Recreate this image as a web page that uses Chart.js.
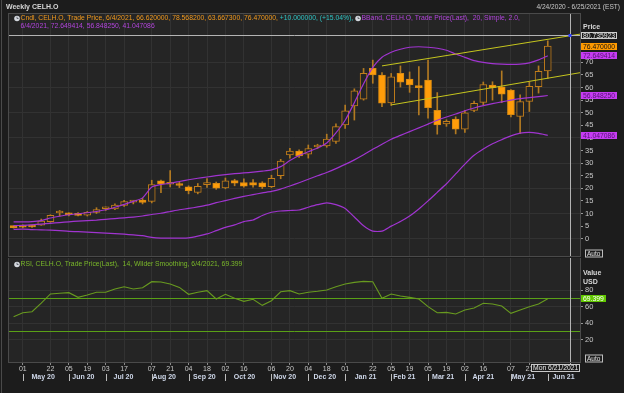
<!DOCTYPE html>
<html>
<head>
<meta charset="utf-8">
<title>Weekly CELH.O</title>
<script src="https://cdn.jsdelivr.net/npm/chart.js@4.4.1/dist/chart.umd.min.js"></script>
<style>
    html, body { margin: 0; padding: 0; background: #1c1c1c; }
    #wrap { position: relative; width: 624px; height: 393px; overflow: hidden; background: #1c1c1c; }
    #wrap canvas { position: absolute; left: 0; }
    #price { top: 0; }
    #rsi { top: 258px; }
</style>
</head>
<body>
<div id="wrap">
    <canvas id="price" width="624" height="258"></canvas>
    <canvas id="rsi" width="624" height="135"></canvas>
</div>
<script>
'use strict';

// Weekly candles (week ending Friday)
const weeks = [
    '2020-04-24', '2020-05-01', '2020-05-08', '2020-05-15', '2020-05-22', '2020-05-29',
    '2020-06-05', '2020-06-12', '2020-06-19', '2020-06-26', '2020-07-03', '2020-07-10',
    '2020-07-17', '2020-07-24', '2020-07-31', '2020-08-07', '2020-08-14', '2020-08-21',
    '2020-08-28', '2020-09-04', '2020-09-11', '2020-09-18', '2020-09-25', '2020-10-02',
    '2020-10-09', '2020-10-16', '2020-10-23', '2020-10-30', '2020-11-06', '2020-11-13',
    '2020-11-20', '2020-11-27', '2020-12-04', '2020-12-11', '2020-12-18', '2020-12-25',
    '2021-01-01', '2021-01-08', '2021-01-15', '2021-01-22', '2021-01-29', '2021-02-05',
    '2021-02-12', '2021-02-19', '2021-02-26', '2021-03-05', '2021-03-12', '2021-03-19',
    '2021-03-26', '2021-04-02', '2021-04-09', '2021-04-16', '2021-04-23', '2021-04-30',
    '2021-05-07', '2021-05-14', '2021-05-21', '2021-05-28', '2021-06-04'
];
const opens = [5.0, 5.2, 5.3, 5.4, 6.8, 10.2, 10.0, 10.1, 9.3, 10.4,
    11.9, 11.8, 13.2, 14.5, 15.3, 14.8, 23.0, 21.6, 21.8, 20.6,
    18.4, 21.4, 22.0, 20.2, 23.1, 22.3, 22.3, 22.2, 20.7, 25.0,
    33.3, 34.8, 33.6, 36.4, 36.8, 38.6, 45.2, 52.7, 55.4, 67.6,
    65.0, 53.9, 65.6, 63.4, 60.5, 63.0, 51.0, 45.6, 47.5, 43.5,
    50.9, 54.1, 61.0, 60.3, 59.0, 48.5, 54.5, 60.4, 66.62];
const highs = [5.1, 5.5, 5.4, 7.8, 9.5, 11.2, 10.3, 10.4, 10.8, 12.3,
    12.6, 13.8, 15.2, 15.2, 16.0, 23.2, 23.3, 27.0, 22.5, 21.0,
    21.9, 23.9, 22.5, 24.1, 23.6, 23.8, 23.5, 22.6, 25.2, 31.5,
    35.9, 35.3, 37.2, 37.5, 41.5, 45.6, 53.0, 59.5, 67.6, 70.9,
    65.9, 65.6, 68.6, 66.2, 68.3, 70.9, 58.0, 47.2, 48.4, 51.0,
    54.6, 62.2, 62.3, 66.6, 59.2, 57.1, 62.2, 68.6, 78.5682];
const lows = [4.2, 4.3, 4.5, 5.3, 6.5, 9.0, 9.0, 9.0, 9.0, 10.0,
    11.2, 11.5, 12.8, 13.8, 13.8, 14.2, 18.3, 20.6, 20.3, 17.8,
    17.8, 20.4, 19.6, 19.8, 21.0, 20.5, 20.5, 19.9, 20.3, 23.8,
    32.0, 32.3, 32.0, 35.8, 36.3, 37.8, 43.8, 47.1, 55.0, 61.7,
    52.4, 52.9, 60.2, 58.1, 49.1, 47.8, 41.5, 44.6, 41.6, 42.2,
    50.4, 53.2, 55.0, 54.0, 48.3, 41.7, 50.5, 57.8, 63.6673];
const closes = [4.4, 4.6, 4.7, 7.0, 9.3, 10.4, 9.5, 9.2, 10.5, 11.6,
    12.1, 13.3, 14.7, 14.7, 14.4, 21.5, 21.7, 22.0, 21.1, 19.1,
    20.8, 22.3, 20.1, 23.0, 22.0, 20.9, 21.2, 20.6, 24.0, 30.8,
    34.8, 32.9, 35.8, 36.7, 39.5, 44.5, 50.8, 58.7, 65.6, 65.0,
    53.8, 64.3, 62.1, 61.0, 60.0, 52.0, 45.2, 46.6, 43.5, 50.0,
    53.7, 61.2, 60.0, 57.4, 49.2, 54.4, 60.5, 66.47, 76.47];

// Bollinger band (20, 2.0)
const bbUpper = [6.7, 6.7, 6.8, 7.2, 8.2, 8.9, 9.5, 9.9, 10.3, 10.8,
    11.5, 12.5, 13.6, 14.8, 16.2, 20.5, 21.5, 22.0, 22.7, 23.4,
    24.0, 24.5, 25.0, 25.4, 25.8, 26.1, 26.4, 26.8, 27.3, 28.6,
    31.0, 33.0, 34.5, 36.0, 38.0, 42.0, 47.0, 54.0, 61.5, 68.0,
    72.0, 74.0, 75.2, 76.0, 76.2, 76.0, 75.6, 74.8, 73.3, 72.0,
    70.7, 70.0, 69.5, 69.3, 69.2, 69.3, 69.8, 71.0, 72.649414];
const bbMid = [5.2, 5.3, 5.5, 5.8, 6.1, 6.4, 6.7, 7.0, 7.2, 7.4,
    7.7, 8.0, 8.3, 8.6, 9.0, 9.6, 10.1, 10.8, 11.5, 12.0,
    12.6, 13.3, 14.3, 15.1, 16.0, 16.8, 17.5, 18.2, 18.8, 19.7,
    20.9, 22.2, 23.6, 25.0, 26.3, 27.8, 29.5, 31.3, 33.3, 35.5,
    37.5, 39.5, 41.0, 42.5, 44.0, 45.5, 47.0, 48.3, 49.5, 50.8,
    51.9, 52.8, 53.6, 54.3, 55.0, 55.6, 56.0, 56.4, 56.84825];
const bbLower = [3.7, 3.8, 3.6, 3.5, 3.4, 3.2, 2.9, 2.8, 2.6, 2.4,
    2.2, 2.0, 1.8, 1.5, 1.2, 0.5, 0.2, 0.2, 0.2, 0.3,
    1.0, 1.9, 3.2, 4.5, 5.5, 6.8, 7.4, 9.2, 10.5, 11.0,
    11.2, 11.4, 12.5, 13.5, 14.2, 13.5, 12.0, 8.6, 5.1, 3.0,
    3.0, 5.0, 6.8, 9.0, 11.8, 15.0, 18.4, 21.8, 25.7, 29.6,
    33.1, 35.6, 37.7, 39.3, 40.8, 41.9, 42.2, 41.8, 41.047086];

// RSI 14, Wilder smoothing
const rsi = [47.7, 52.5, 53.7, 64.0, 75.2, 76.0, 76.8, 71.1, 74.0, 77.2,
    77.2, 81.2, 84.0, 81.2, 82.8, 90.1, 89.7, 87.3, 83.2, 74.8,
    77.2, 79.2, 69.1, 74.8, 69.9, 66.3, 68.7, 61.4, 67.0, 77.9,
    79.2, 75.2, 77.2, 78.4, 80.0, 84.0, 87.3, 89.3, 90.5, 90.1,
    69.9, 75.2, 72.7, 71.1, 69.1, 59.8, 52.5, 52.9, 50.9, 55.8,
    58.2, 63.9, 63.0, 60.6, 51.7, 55.8, 59.8, 63.0, 69.399];
const rsiLevels = [70, 30];

// trend channel drawn on the price panel (week index, price)
const trendUpperX = [40, 61.5];
const trendUpperY = [68.6, 81.2];
const trendLowerX = [41, 61.5];
const trendLowerY = [53.1, 65.9];

// axes
const priceTicks = [0, 5, 10, 15, 20, 25, 30, 35, 40, 45, 50, 55, 60, 65, 70];
const rsiTicks = [20, 40, 60, 80];
const dayTicks = [
    '2020-05-01', '2020-05-22', '2020-06-05', '2020-06-19', '2020-07-03', '2020-07-17',
    '2020-08-07', '2020-08-21', '2020-09-04', '2020-09-18', '2020-10-02', '2020-10-16',
    '2020-11-06', '2020-11-20', '2020-12-04', '2020-12-18', '2021-01-01', '2021-01-22',
    '2021-02-05', '2021-02-19', '2021-03-05', '2021-03-19', '2021-04-02', '2021-04-16',
    '2021-05-07', '2021-05-21'
];
const monthLabels = ['May 20', 'Jun 20', 'Jul 20', 'Aug 20', 'Sep 20', 'Oct 20', 'Nov 20',
    'Dec 20', 'Jan 21', 'Feb 21', 'Mar 21', 'Apr 21', 'May 21', 'Jun 21'];
const rangeEnd = '2021-06-25';
const crossDate = '2021-06-21';
const crossPrice = 80.735923;

// ---- look ----
const FONT = "'Liberation Sans', Arial, sans-serif";
const C = {
    bg: '#1c1c1c', plot: '#252525', grid: '#323232', frame: '#4a4a4a', text: '#c8c8c8',
    orange: '#ff9d0a', orangeEdge: '#d88a12', hollowEdge: '#c27d1a', wick: '#b27a22',
    band: '#a034d0', trend: '#c6c61e', rsiLine: '#689a1f', rsiLevel: '#5aa016',
    cross: '#b4b4b4', legOrange: '#f29a1e', legTeal: '#2fc4c4', legPurple: '#b244dc',
    legGreen: '#7ab82a', magenta: '#c63cf2', magentaText: '#571375'
};
const MONTHS = ['Jan', 'Feb', 'Mar', 'Apr', 'May', 'Jun', 'Jul', 'Aug', 'Sep', 'Oct', 'Nov', 'Dec'];
const DAYS = ['Sun', 'Mon', 'Tue', 'Wed', 'Thu', 'Fri', 'Sat'];
const WEEK_MS = 7 * 86400000;
const L = weeks.length - 1;

function parseDate(s) {
    const [y, m, d] = s.split('-').map(Number);
    return Date.UTC(y, m - 1, d);
}
const t0 = parseDate(weeks[0]);
const dateToIdx = s => (parseDate(s) - t0) / WEEK_MS;
const fmt = s => { const [y, m, d] = s.split('-'); return `${+m}/${+d}/${y}`; };

const xMin = -0.5;
const xMax = dateToIdx(rangeEnd) + 0.5;

function monthCenter(label) {
    const [mon, yy] = label.split(' ');
    const y = 2000 + Number(yy);
    const m = MONTHS.indexOf(mon);
    return ((Date.UTC(y, m, 1) + Date.UTC(y, m + 1, 1)) / 2 - t0) / WEEK_MS;
}
// first candle of each month gets a separator
const monthStarts = weeks.map((w, i) => i).filter(i => i > 0 && weeks[i].slice(5, 7) !== weeks[i - 1].slice(5, 7));

function icon(ctx, x, y) {
    ctx.beginPath();
    ctx.arc(x, y, 2.8, 0, Math.PI * 2);
    ctx.fillStyle = '#d4d8de';
    ctx.fill();
    ctx.strokeStyle = '#4a4f58';
    ctx.lineWidth = 0.8;
    ctx.beginPath();
    ctx.moveTo(x, y - 1.8);
    ctx.lineTo(x, y);
    ctx.lineTo(x + 1.5, y);
    ctx.stroke();
}

function drawParts(ctx, x, y, parts) {
    parts.forEach(p => {
        if (p === 'icon') {
            icon(ctx, x + 3, y);
            x += 6.5;
            return;
        }
        ctx.fillStyle = p[1];
        ctx.fillText(p[0], x, y);
        x += ctx.measureText(p[0]).width;
    });
}

function valueBox(ctx, x, y, text, bg, fg, border) {
    ctx.font = `6.8px ${FONT}`;
    const w = Math.round(ctx.measureText(text).width + 4);
    const top = Math.round(y - 3.5);
    ctx.fillStyle = bg;
    ctx.fillRect(x, top, w, 7);
    if (border) {
        ctx.strokeStyle = border;
        ctx.lineWidth = 1;
        ctx.strokeRect(x + 0.5, top + 0.5, w - 1, 6);
    }
    ctx.fillStyle = fg;
    ctx.textAlign = 'left';
    ctx.textBaseline = 'middle';
    ctx.fillText(text, x + 2, top + 3.8);
}

function autoBox(ctx, x, y) {
    ctx.strokeStyle = '#bdbdbd';
    ctx.lineWidth = 1;
    ctx.strokeRect(x + 0.5, y + 0.5, 17, 7);
    ctx.font = `6.5px ${FONT}`;
    ctx.fillStyle = '#e0e0e0';
    ctx.textAlign = 'left';
    ctx.textBaseline = 'middle';
    ctx.fillText('Auto', x + 2, y + 4.3);
}

function fillBackground(chart) {
    const { ctx, chartArea: a } = chart;
    ctx.save();
    ctx.fillStyle = C.bg;
    ctx.fillRect(0, 0, chart.width, chart.height);
    ctx.fillStyle = C.plot;
    ctx.fillRect(a.left, a.top, a.right - a.left, a.bottom - a.top);
    ctx.restore();
}

function drawFrame(chart) {
    const { ctx, chartArea: a } = chart;
    ctx.strokeStyle = C.frame;
    ctx.lineWidth = 1;
    ctx.strokeRect(a.left - 0.5, a.top - 0.5, a.right - a.left + 1, a.bottom - a.top + 1);
    ctx.beginPath();
    ctx.moveTo(1.5, 0);
    ctx.lineTo(1.5, chart.height);
    ctx.stroke();
}

function xScale(extra) {
    return Object.assign({
        type: 'linear',
        min: xMin,
        max: xMax,
        offset: false,
        afterBuildTicks: s => { s.ticks = dayTicks.map(d => ({ value: weeks.indexOf(d) })); }
    }, extra);
}

function yScale(min, max, ticks, gridColor) {
    return {
        position: 'right',
        min: min,
        max: max,
        afterBuildTicks: s => { s.ticks = ticks.map(v => ({ value: v })); },
        afterFit: s => { s.width = 44; s.paddingTop = 0; s.paddingBottom = 0; },
        ticks: { color: C.text, font: { family: FONT, size: 7.5 }, padding: 2, autoSkip: false },
        grid: { color: gridColor, tickColor: '#9a9a9a', tickLength: 3 },
        border: { display: true, color: C.frame }
    };
}

// ---- price panel ----
const pricePanel = {
    id: 'pricePanel',
    beforeDraw: fillBackground,
    afterDatasetsDraw(chart) {
        const { ctx, chartArea: a, scales } = chart;
        const cx = Math.round(scales.x.getPixelForValue(dateToIdx(crossDate))) + 0.5;
        const cy = Math.round(scales.y.getPixelForValue(crossPrice)) + 0.5;
        ctx.save();
        ctx.strokeStyle = C.cross;
        ctx.lineWidth = 1;
        ctx.beginPath();
        ctx.moveTo(a.left, cy);
        ctx.lineTo(a.right, cy);
        ctx.moveTo(cx, a.top);
        ctx.lineTo(cx, a.bottom);
        ctx.stroke();
        ctx.fillStyle = '#2a3cff';
        ctx.fillRect(cx - 2, cy - 1.5, 3, 3);
        ctx.restore();
    },
    afterDraw(chart) {
        const { ctx, chartArea: a, scales } = chart;
        const y = v => scales.y.getPixelForValue(v);
        ctx.save();
        drawFrame(chart);

        // title strip
        ctx.textBaseline = 'middle';
        ctx.textAlign = 'left';
        ctx.font = `bold 7px ${FONT}`;
        ctx.fillStyle = '#d6d6d6';
        ctx.fillText('Weekly CELH.O', 6, 7.5);
        ctx.font = `6.6px ${FONT}`;
        ctx.fillStyle = C.text;
        ctx.textAlign = 'right';
        ctx.fillText(`${fmt(weeks[0])} - ${fmt(rangeEnd)} (EST)`, 620, 7);

        // legend
        const chg = closes[L] - closes[L - 1];
        const pct = chg / closes[L - 1] * 100;
        ctx.textAlign = 'left';
        ctx.font = `6.8px ${FONT}`;
        drawParts(ctx, 14, 18.5, [
            'icon',
            [`Cndl, CELH.O, Trade Price, ${fmt(weeks[L])}, ${opens[L].toFixed(6)}, ${highs[L].toFixed(6)}, ${lows[L].toFixed(6)}, ${closes[L].toFixed(6)}, `, C.legOrange],
            [`+${chg.toFixed(6)}, (+${pct.toFixed(2)}%), `, C.legTeal],
            'icon',
            ['BBand, CELH.O, Trade Price(Last),  20, Simple, 2.0,', C.legPurple]
        ]);
        drawParts(ctx, 20.5, 26.5, [
            [`${fmt(weeks[L])}, ${bbUpper[L].toFixed(6)}, ${bbMid[L].toFixed(6)}, ${bbLower[L].toFixed(6)}`, C.legPurple]
        ]);

        // right axis captions and last-value boxes
        const bx = a.right + 1;
        ctx.font = `bold 7px ${FONT}`;
        ctx.fillStyle = '#d8d8d8';
        ctx.fillText('Price', 583, 27.5);
        valueBox(ctx, bx, y(crossPrice), crossPrice.toFixed(6), C.bg, '#e6e6e6', '#cfcfcf');
        valueBox(ctx, bx, y(closes[L]), closes[L].toFixed(6), '#ff9a00', '#111111');
        valueBox(ctx, bx, y(bbUpper[L]), bbUpper[L].toFixed(6), C.magenta, C.magentaText);
        valueBox(ctx, bx, y(bbMid[L]), bbMid[L].toFixed(6), C.magenta, C.magentaText);
        valueBox(ctx, bx, y(bbLower[L]), bbLower[L].toFixed(6), C.magenta, C.magentaText);
        autoBox(ctx, 585, 249.5);
        ctx.restore();
    }
};

const isUp = i => closes[i] >= opens[i];
const line = (xs, ys) => xs.map((x, i) => ({ x: x, y: ys[i] }));
const series = arr => arr.map((v, i) => ({ x: i, y: v }));

new Chart(document.getElementById('price'), {
    type: 'bar',
    data: {
        datasets: [
            {
                label: 'wick',
                data: weeks.map((w, i) => ({ x: i, y: [lows[i], highs[i]] })),
                backgroundColor: C.wick,
                barThickness: 1,
                grouped: false,
                order: 4
            },
            {
                label: 'body',
                data: weeks.map((w, i) => ({ x: i, y: [opens[i], closes[i]] })),
                backgroundColor: c => isUp(c.dataIndex) ? C.plot : C.orange,
                borderColor: c => isUp(c.dataIndex) ? C.hollowEdge : C.orangeEdge,
                borderWidth: 1,
                borderSkipped: false,
                barThickness: 7,
                minBarLength: 2,
                grouped: false,
                order: 3
            },
            { type: 'line', label: 'upper', data: series(bbUpper), borderColor: C.band, borderWidth: 1.2, pointRadius: 0, tension: 0.2, order: 2 },
            { type: 'line', label: 'mid', data: series(bbMid), borderColor: C.band, borderWidth: 1.2, pointRadius: 0, tension: 0.2, order: 2 },
            { type: 'line', label: 'lower', data: series(bbLower), borderColor: C.band, borderWidth: 1.2, pointRadius: 0, tension: 0.2, order: 2 },
            { type: 'line', label: 'trend hi', data: line(trendUpperX, trendUpperY), borderColor: C.trend, borderWidth: 1, pointRadius: 0, order: 1 },
            { type: 'line', label: 'trend lo', data: line(trendLowerX, trendLowerY), borderColor: C.trend, borderWidth: 1, pointRadius: 0, order: 1 }
        ]
    },
    options: {
        responsive: false,
        animation: false,
        devicePixelRatio: 1,
        layout: { padding: { left: 9, right: 0, top: 14, bottom: 2 } },
        plugins: { legend: { display: false }, tooltip: { enabled: false } },
        scales: {
            x: xScale({
                afterFit: s => { s.height = 0; s.paddingLeft = 0; s.paddingRight = 0; },
                ticks: { display: false },
                grid: { color: C.grid, drawTicks: false, offset: false },
                border: { display: false }
            }),
            y: yScale(-6.87, 89.2, priceTicks, c => (c.tick && c.tick.value % 10 === 0) ? C.grid : 'rgba(0,0,0,0)')
        }
    },
    plugins: [pricePanel]
});

// ---- RSI panel ----
const rsiPanel = {
    id: 'rsiPanel',
    beforeDraw: fillBackground,
    beforeDatasetsDraw(chart) {
        const { ctx, chartArea: a, scales } = chart;
        ctx.save();
        ctx.strokeStyle = C.rsiLevel;
        ctx.lineWidth = 1;
        rsiLevels.forEach(v => {
            const yy = Math.round(scales.y.getPixelForValue(v)) + 0.5;
            ctx.beginPath();
            ctx.moveTo(a.left, yy);
            ctx.lineTo(a.right, yy);
            ctx.stroke();
        });
        ctx.restore();
    },
    afterDatasetsDraw(chart) {
        const { ctx, chartArea: a, scales } = chart;
        const cx = Math.round(scales.x.getPixelForValue(dateToIdx(crossDate))) + 0.5;
        ctx.save();
        ctx.strokeStyle = C.cross;
        ctx.lineWidth = 1;
        ctx.beginPath();
        ctx.moveTo(cx, a.top);
        ctx.lineTo(cx, a.bottom + 3);
        ctx.stroke();
        ctx.restore();
    },
    afterDraw(chart) {
        const { ctx, chartArea: a, scales } = chart;
        ctx.save();
        drawFrame(chart);

        // legend
        ctx.textBaseline = 'middle';
        ctx.textAlign = 'left';
        ctx.font = `6.8px ${FONT}`;
        drawParts(ctx, 14, 6.5, [
            'icon',
            [`RSI, CELH.O, Trade Price(Last),  14, Wilder Smoothing, ${fmt(weeks[L])}, ${rsi[L].toFixed(3)}`, C.legGreen]
        ]);

        // axis captions
        ctx.font = `bold 7px ${FONT}`;
        ctx.fillStyle = '#d8d8d8';
        ctx.fillText('Value', 583, 15.5);
        ctx.fillText('USD', 583, 24.5);
        valueBox(ctx, a.right + 1, scales.y.getPixelForValue(rsi[L]), rsi[L].toFixed(3), '#62c800', '#ffffff');
        autoBox(ctx, 585, 96.5);

        // month row
        ctx.font = `bold 7px ${FONT}`;
        ctx.fillStyle = '#cfd8ea';
        ctx.textAlign = 'center';
        monthLabels.forEach(m => {
            ctx.fillText(m, scales.x.getPixelForValue(monthCenter(m)), 119.5);
        });
        ctx.strokeStyle = '#bcbcbc';
        ctx.lineWidth = 1;
        monthStarts.forEach(i => {
            const xx = Math.round(scales.x.getPixelForValue(i)) + 0.5;
            ctx.beginPath();
            ctx.moveTo(xx, 116);
            ctx.lineTo(xx, 123);
            ctx.stroke();
        });

        // cursor date box
        const cd = new Date(parseDate(crossDate));
        const label = `${DAYS[cd.getUTCDay()]} ${fmt(crossDate)}`;
        ctx.font = `6.8px ${FONT}`;
        const w = Math.round(ctx.measureText(label).width + 4);
        const bx = a.right - w;
        ctx.fillStyle = C.bg;
        ctx.fillRect(bx, 106, w, 8);
        ctx.strokeStyle = '#c8c8c8';
        ctx.strokeRect(bx + 0.5, 106.5, w - 1, 7);
        ctx.fillStyle = '#e8e8e8';
        ctx.textAlign = 'left';
        ctx.fillText(label, bx + 2, 110.5);
        ctx.restore();
    }
};

new Chart(document.getElementById('rsi'), {
    type: 'line',
    data: {
        datasets: [{
            label: 'RSI',
            data: series(rsi),
            borderColor: C.rsiLine,
            borderWidth: 1.1,
            pointRadius: 0,
            tension: 0
        }]
    },
    options: {
        responsive: false,
        animation: false,
        devicePixelRatio: 1,
        layout: { padding: { left: 9, right: 0, top: 0, bottom: 0 } },
        plugins: { legend: { display: false }, tooltip: { enabled: false } },
        scales: {
            x: xScale({
                afterFit: s => { s.height = 31; s.paddingLeft = 0; s.paddingRight = 0; },
                ticks: {
                    color: C.text,
                    font: { family: FONT, size: 7 },
                    padding: 0,
                    maxRotation: 0,
                    autoSkip: false,
                    callback: v => weeks[v] ? weeks[v].slice(8) : ''
                },
                grid: { color: C.grid, tickColor: '#8a8a8a', tickLength: 3, offset: false },
                border: { display: false }
            }),
            y: yScale(-7.27, 118.8, rsiTicks, C.grid)
        }
    },
    plugins: [rsiPanel]
});
</script>
</body>
</html>
